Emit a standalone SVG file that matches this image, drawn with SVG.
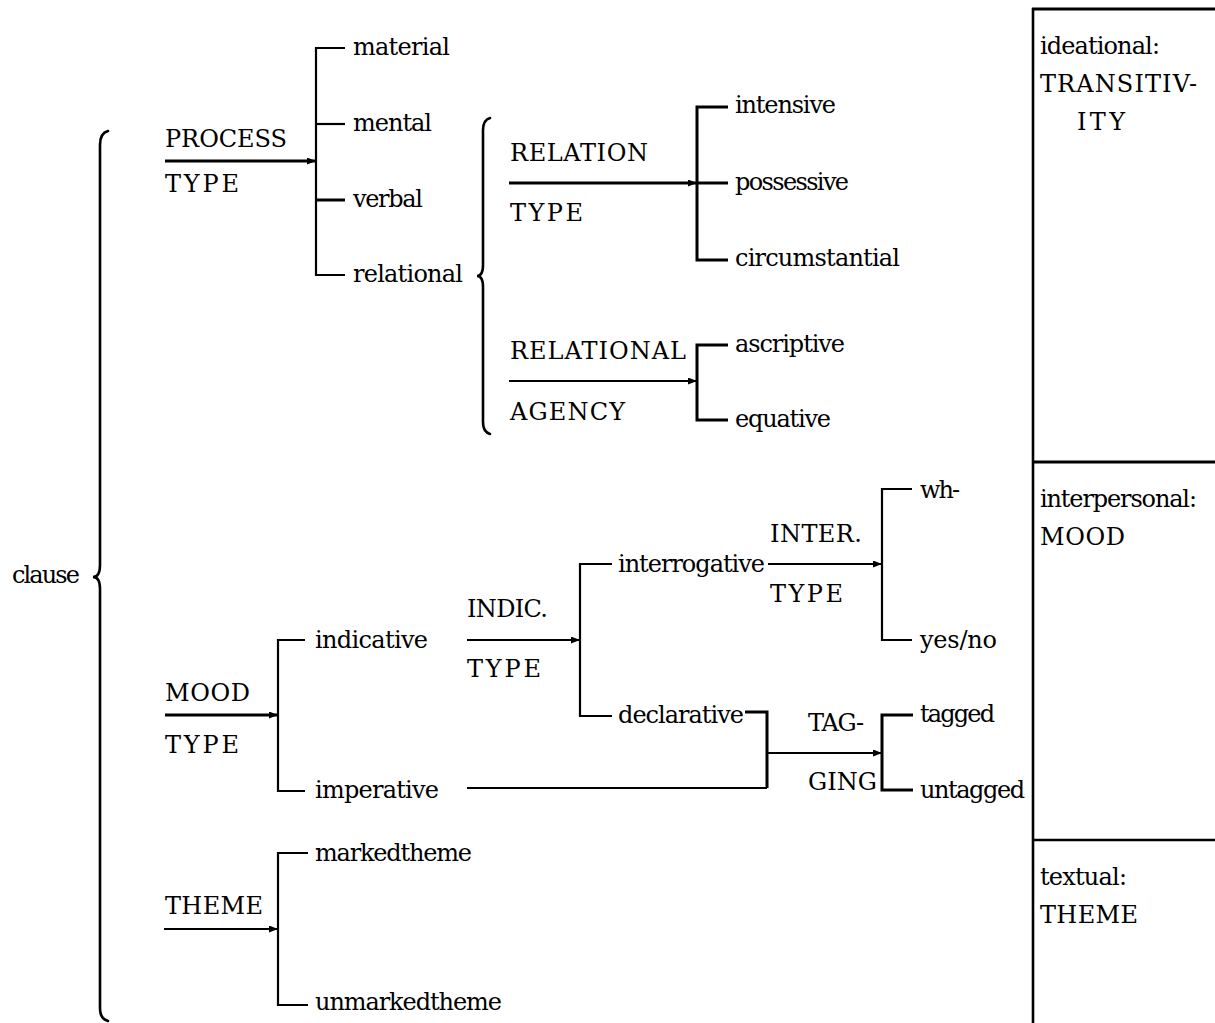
<svg xmlns="http://www.w3.org/2000/svg" width="1215" height="1023" viewBox="0 0 1215 1023">
  <style>
    text { font-family: "DejaVu Serif", serif; font-size: 24px; fill: #000; }
    .ln { stroke: #000; fill: none; stroke-width: 2.2; }
    .thick { stroke-width: 3; }
    .brace { stroke: #000; fill: none; stroke-width: 2.6; stroke-linecap: round; }
    .rule { stroke: #000; fill: none; }
  </style>
  <defs>
    <marker id="arr" markerUnits="userSpaceOnUse" markerWidth="9" markerHeight="7" refX="9" refY="3.5" orient="auto">
      <path d="M0,0 L9,3.5 L0,7 z" fill="#000"/>
    </marker>
  </defs>
  <rect width="1215" height="1023" fill="#fff"/>

  <!-- system network connectors -->
  <g id="connectors">
    <!-- braces -->
    <path class="brace" d="M108,131 Q100,133 100,145 L100,565 Q100,577 93,577 Q100,577 100,589 L100,1008 Q100,1019 108,1021"/>
    <path class="brace" d="M490,118 Q483,120 483,130 L483,265 Q483,276 477,276 Q483,276 483,287 L483,422 Q483,432 490,434"/>

    <!-- PROCESS TYPE -->
    <line class="ln thick" x1="165" y1="161" x2="316" y2="161" marker-end="url(#arr)"/>
    <path class="ln" d="M345,48 H316 V275 H345"/>
    <line class="ln" x1="316" y1="124" x2="345" y2="124"/>
    <line class="ln thick" x1="316" y1="200" x2="345" y2="200"/>

    <!-- RELATION TYPE -->
    <line class="ln thick" x1="509" y1="183" x2="697" y2="183" marker-end="url(#arr)"/>
    <path class="ln thick" d="M728,107 H697 V260 H728"/>
    <line class="ln thick" x1="697" y1="183" x2="728" y2="183"/>

    <!-- RELATIONAL AGENCY -->
    <line class="ln" x1="509" y1="381" x2="697" y2="381" marker-end="url(#arr)"/>
    <path class="ln thick" d="M728,345 H697 V420 H728"/>

    <!-- MOOD TYPE -->
    <line class="ln thick" x1="165" y1="715" x2="278" y2="715" marker-end="url(#arr)"/>
    <path class="ln" d="M305,640 H278 V791 H305"/>

    <!-- INDIC. TYPE -->
    <line class="ln" x1="467" y1="640" x2="580" y2="640" marker-end="url(#arr)"/>
    <path class="ln" d="M612,564 H580 V716 H612"/>

    <!-- INTER. TYPE -->
    <line class="ln" x1="768" y1="564" x2="882" y2="564" marker-end="url(#arr)"/>
    <path class="ln" d="M912,489 H882 V640 H912"/>

    <!-- TAGGING: entry from declarative and imperative -->
    <path class="ln thick" d="M745,712 H767 V788"/>
    <line class="ln" x1="467" y1="788" x2="767" y2="788"/>
    <line class="ln" x1="767" y1="753" x2="882" y2="753" marker-end="url(#arr)"/>
    <path class="ln thick" d="M913,715 H882 V790 H913"/>

    <!-- THEME -->
    <line class="ln" x1="164" y1="929" x2="278" y2="929" marker-end="url(#arr)"/>
    <path class="ln" d="M308,853 H278 V1005 H308"/>
  </g>

  <!-- metafunction column -->
  <g id="metafunctions">
    <line class="rule" x1="1033" y1="8" x2="1033" y2="1023" stroke-width="2.6"/>
    <line class="rule" x1="1032" y1="9" x2="1215" y2="9" stroke-width="3"/>
    <line class="rule" x1="1032" y1="462" x2="1215" y2="462" stroke-width="3"/>
    <line class="rule" x1="1032" y1="840" x2="1215" y2="840" stroke-width="2.6"/>
    <g id="ideational">
      <text x="1040" y="54" textLength="120" lengthAdjust="spacing">ideational:</text>
      <text x="1040" y="92" textLength="157" lengthAdjust="spacing">TRANSITIV-</text>
      <text x="1077" y="130" textLength="48" lengthAdjust="spacing">ITY</text>
    </g>
    <g id="interpersonal">
      <text x="1040" y="507" textLength="157" lengthAdjust="spacing">interpersonal:</text>
      <text x="1040" y="545" textLength="85" lengthAdjust="spacing">MOOD</text>
    </g>
    <g id="textual">
      <text x="1040" y="885" textLength="87" lengthAdjust="spacing">textual:</text>
      <text x="1040" y="923" textLength="98" lengthAdjust="spacing">THEME</text>
    </g>
  </g>

  <g id="clause"><text x="12" y="583" textLength="68" lengthAdjust="spacing">clause</text></g>

  <g id="process-type">
    <text x="165" y="147" textLength="122" lengthAdjust="spacing">PROCESS</text>
    <text x="165" y="192" textLength="74" lengthAdjust="spacing">TYPE</text>
  </g>
  <g id="material"><text x="353" y="55" textLength="97" lengthAdjust="spacing">material</text></g>
  <g id="mental"><text x="353" y="131" textLength="79" lengthAdjust="spacing">mental</text></g>
  <g id="verbal"><text x="353" y="207" textLength="70" lengthAdjust="spacing">verbal</text></g>
  <g id="relational"><text x="353" y="282" textLength="110" lengthAdjust="spacing">relational</text></g>

  <g id="relation-type">
    <text x="510" y="161" textLength="138" lengthAdjust="spacing">RELATION</text>
    <text x="510" y="221" textLength="73" lengthAdjust="spacing">TYPE</text>
  </g>
  <g id="intensive"><text x="735" y="113" textLength="101" lengthAdjust="spacing">intensive</text></g>
  <g id="possessive"><text x="735" y="190" textLength="114" lengthAdjust="spacing">possessive</text></g>
  <g id="circumstantial"><text x="735" y="266" textLength="165" lengthAdjust="spacing">circumstantial</text></g>

  <g id="relational-agency">
    <text x="510" y="359" textLength="176" lengthAdjust="spacing">RELATIONAL</text>
    <text x="510" y="420" textLength="115" lengthAdjust="spacing">AGENCY</text>
  </g>
  <g id="ascriptive"><text x="735" y="352" textLength="110" lengthAdjust="spacing">ascriptive</text></g>
  <g id="equative"><text x="735" y="427" textLength="96" lengthAdjust="spacing">equative</text></g>

  <g id="mood-type">
    <text x="165" y="701" textLength="85" lengthAdjust="spacing">MOOD</text>
    <text x="165" y="753" textLength="74" lengthAdjust="spacing">TYPE</text>
  </g>
  <g id="indicative"><text x="315" y="648" textLength="113" lengthAdjust="spacing">indicative</text></g>
  <g id="imperative"><text x="315" y="798" textLength="124" lengthAdjust="spacing">imperative</text></g>

  <g id="indic-type">
    <text x="467" y="617" textLength="81" lengthAdjust="spacing">INDIC.</text>
    <text x="467" y="677" textLength="74" lengthAdjust="spacing">TYPE</text>
  </g>
  <g id="interrogative"><text x="618" y="572" textLength="147" lengthAdjust="spacing">interrogative</text></g>
  <g id="declarative"><text x="618" y="723" textLength="126" lengthAdjust="spacing">declarative</text></g>

  <g id="inter-type">
    <text x="770" y="542" textLength="92" lengthAdjust="spacing">INTER.</text>
    <text x="770" y="602" textLength="73" lengthAdjust="spacing">TYPE</text>
  </g>
  <g id="wh"><text x="920" y="498" textLength="40" lengthAdjust="spacing">wh-</text></g>
  <g id="yes-no"><text x="920" y="648" textLength="77" lengthAdjust="spacing">yes/no</text></g>

  <g id="tagging">
    <text x="808" y="731" textLength="56" lengthAdjust="spacing">TAG-</text>
    <text x="808" y="790" textLength="69" lengthAdjust="spacing">GING</text>
  </g>
  <g id="tagged"><text x="920" y="722" textLength="75" lengthAdjust="spacing">tagged</text></g>
  <g id="untagged"><text x="920" y="798" textLength="105" lengthAdjust="spacing">untagged</text></g>

  <g id="theme">
    <text x="165" y="914" textLength="98" lengthAdjust="spacing">THEME</text>
  </g>
  <g id="markedtheme"><text x="315" y="861" textLength="157" lengthAdjust="spacing">markedtheme</text></g>
  <g id="unmarkedtheme"><text x="315" y="1010" textLength="187" lengthAdjust="spacing">unmarkedtheme</text></g>
</svg>
